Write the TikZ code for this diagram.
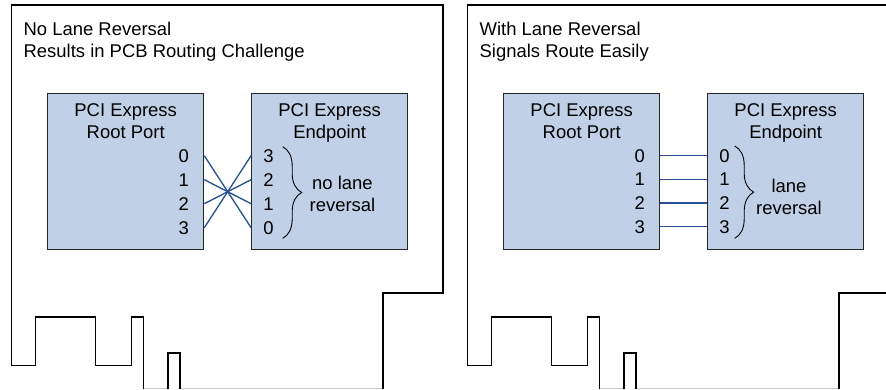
\documentclass[tikz,border=0pt]{standalone}
\usepackage{fontspec}
\setmainfont{Liberation Sans}
\usetikzlibrary{decorations.pathreplacing,calc}

\definecolor{chipfill}{RGB}{192,208,230}
\definecolor{wireblue}{RGB}{40,80,145}

\begin{document}
\begin{tikzpicture}[
    x=0.02cm, y=0.02cm,
    every node/.style={font=\fontsize{10.5}{12.6}\selectfont, inner sep=0pt},
    chip/.style={draw=black!85, line width=0.7pt, fill=chipfill, minimum width=3.12cm, minimum height=3.11cm},
    board/.style={draw=black, line width=0.75pt},
    edge/.style={draw=black!20, line width=0.6pt},
    wire/.style={draw=wireblue, line width=0.75pt},
    brc/.style={decorate, decoration={brace, amplitude=0.38cm}, line width=0.5pt}
]
\useasboundingbox (0,0) rectangle (886,-389);
\clip (0,0) rectangle (886,-389);

% board outlines
\foreach \dx in {0,456} {
  \begin{scope}[shift={(\dx,0)}]
    \draw[edge] (143.5,-388.5) -- (168,-388.5) (180,-388.5) -- (383,-388.5);
    \draw[board] (143.5,-389) -- (143.5,-317) -- (131.5,-317) -- (131.5,-365.5) -- (95.5,-365.5)
      -- (95.5,-317) -- (35.5,-317) -- (35.5,-365.5) -- (11.5,-365.5) -- (11.5,-5)
      -- (443,-5) -- (443,-293) -- (383,-293) -- (383,-389);
    \draw[board] (168,-389) -- (168,-353) -- (180,-353) -- (180,-389);
  \end{scope}
}

% left: no lane reversal
\node[anchor=north west, align=left] (titleA) at (23.3,-21.5) {No Lane Reversal\\Results in PCB Routing Challenge};
\node[chip] (rpA) at (125.7,-171.5) {};
\node[chip] (epA) at (329.7,-171.5) {};
\node[anchor=north, align=center] (rpAt) at ([yshift=-5.9pt]rpA.north) {PCI Express\\Root Port};
\node[anchor=north, align=center] (epAt) at ([yshift=-5.9pt]epA.north) {PCI Express\\Endpoint};
\foreach \i in {0,...,3} {
  \node[anchor=east] (rA\i) at (189.3,-155.7-24*\i) {\i};
  \pgfmathtruncatemacro{\j}{3-\i}
  \node[anchor=west] (eA\j) at (263,-155.7-24*\i) {\j};
}
\foreach \i in {0,...,3}
  \draw[wire] (rpA.east |- rA\i) -- (epA.west |- eA\i);
\draw[brc] (282.7,-146.7) -- (282.7,-238.3);
\node[align=center] (noteA) at (342.5,-194) {no lane\\reversal};

% right: with lane reversal
\node[anchor=north west, align=left] (titleB) at (479.3,-21.5) {With Lane Reversal\\Signals Route Easily};
\node[chip] (rpB) at (581.7,-171.5) {};
\node[chip] (epB) at (785.7,-171.5) {};
\node[anchor=north, align=center] (rpBt) at ([yshift=-5.9pt]rpB.north) {PCI Express\\Root Port};
\node[anchor=north, align=center] (epBt) at ([yshift=-5.9pt]epB.north) {PCI Express\\Endpoint};
\foreach \i in {0,...,3} {
  \node[anchor=east] (rB\i) at (645.3,-155.7-23.7*\i) {\i};
  \node[anchor=west] (eB\i) at (719,-155.7-23.7*\i) {\i};
  \draw[wire] (rpB.east |- rB\i) -- (epB.west |- eB\i);
}
\draw[brc] (734.7,-146) -- (734.7,-238.3);
\node[align=center] (noteB) at (789,-197) {lane\\reversal};
\end{tikzpicture}
\end{document}
